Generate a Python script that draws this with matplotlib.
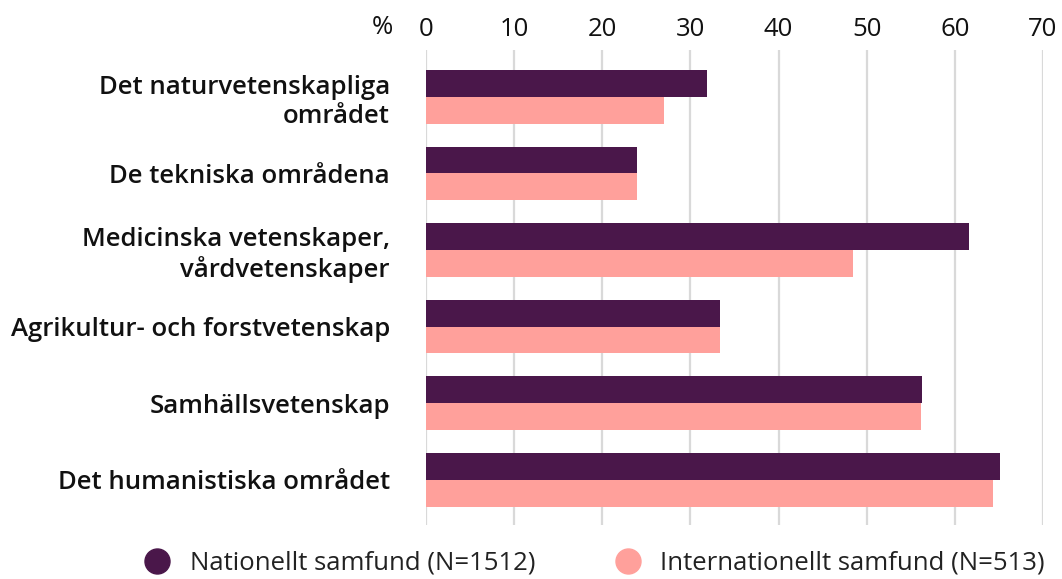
import matplotlib
matplotlib.use("Agg")
import matplotlib.pyplot as plt
from matplotlib.lines import Line2D

plt.rcParams['font.family'] = ['Open Sans', 'DejaVu Sans']

categories = [
    "Det naturvetenskapliga\nområdet",
    "De tekniska områdena",
    "Medicinska vetenskaper,\nvårdvetenskaper",
    "Agrikultur- och forstvetenskap",
    "Samhällsvetenskap",
    "Det humanistiska området",
]
nationellt = [31.9, 23.9, 61.6, 33.3, 56.3, 65.1]
internationellt = [27.0, 23.9, 48.4, 33.3, 56.2, 64.3]
xticks = [0, 10, 20, 30, 40, 50, 60, 70]
series_names = ["Nationellt samfund (N=1512)", "Internationellt samfund (N=513)"]
colors = ["#4A174A", "#FFA09B"]

fig = plt.figure(figsize=(10.62, 5.79), dpi=100)
W, H = 1062, 579
left, right, top, bottom = 426, 1043, 50, 525
ax = fig.add_axes([left / W, 1 - bottom / H, (right - left) / W, (bottom - top) / H])

bh = 0.35
y = list(range(len(categories)))
ax.barh([v - bh / 2 for v in y], nationellt, height=bh, color=colors[0], zorder=3)
ax.barh([v + bh / 2 for v in y], internationellt, height=bh, color=colors[1], zorder=3)

ax.set_xlim(0, 70)
ax.set_ylim(5.59, -0.61)
ax.set_xticks(xticks)
ax.set_xticklabels([str(t) for t in xticks], fontsize=18.5, color="#111111")
ax.xaxis.tick_top()
ax.tick_params(axis='x', length=0, pad=6)
ax.set_yticks(y)
ax.set_yticklabels(categories, fontsize=18.5, fontweight='semibold', color="#111111",
                   linespacing=1.2)
ax.tick_params(axis='y', length=0, pad=26)
for s in ax.spines.values():
    s.set_visible(False)
ax.grid(axis='x', color="#d9d9d9", linewidth=1.6, zorder=0)
ax.set_axisbelow(True)

fig.text(382 / W, 1 - 27 / H, "%", fontsize=18.5, color="#111111", ha='center', va='center')

handles = [Line2D([0], [0], marker='o', linestyle='', markersize=18, markerfacecolor=c,
                  markeredgecolor=c) for c in colors]
fig.legend(handles, series_names, loc='center', bbox_to_anchor=(588 / W, 1 - 563 / H),
           ncol=2, frameon=False, fontsize=18.5, handletextpad=0.25, columnspacing=2.6,
           labelcolor="#222222", borderpad=0)

fig.savefig("out.png", dpi=100)
